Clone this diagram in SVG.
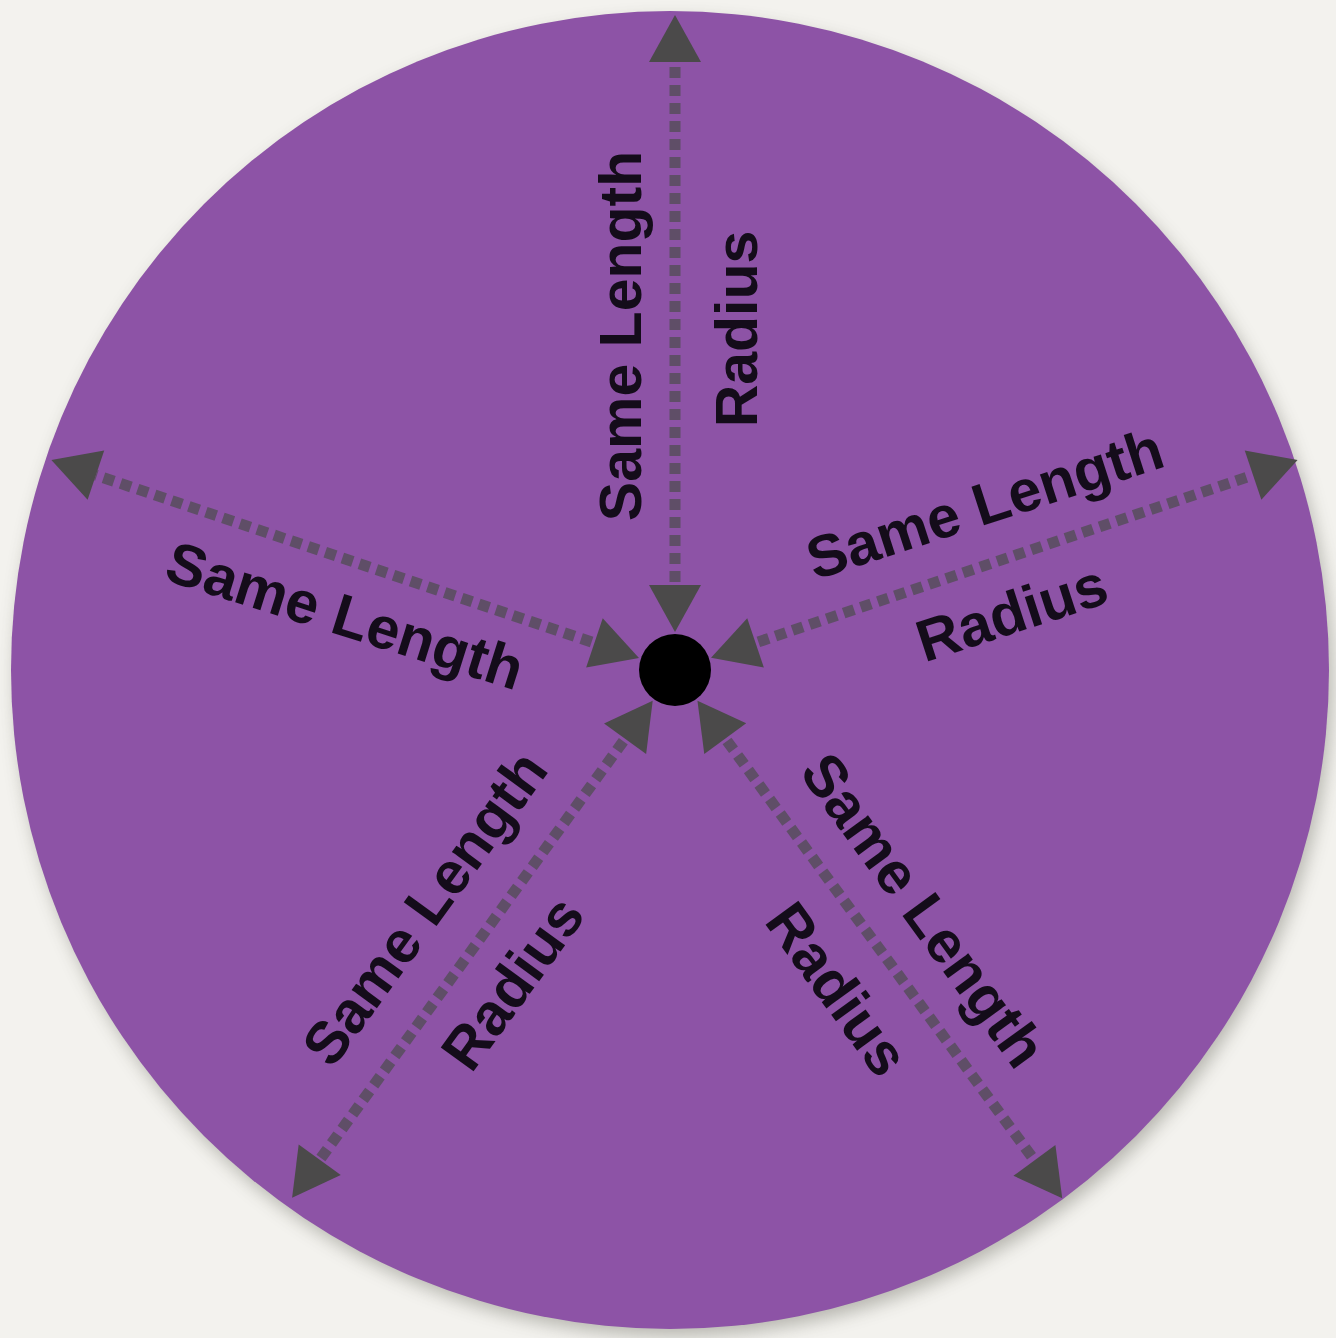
<svg xmlns="http://www.w3.org/2000/svg" xmlns:xlink="http://www.w3.org/1999/xlink" width="1336" height="1338" viewBox="0 0 1336 1338">
  <style>
    .lbl { font-family: "Liberation Sans", Arial, sans-serif; font-weight: bold; font-size: 59px; fill: #140c1a; text-anchor: middle; }
    .dots { stroke: #5f4e67; stroke-width: 11; stroke-dasharray: 11 7; fill: none; }
    .head { fill: #4b4a4a; }
  </style>
  <defs>
    <filter id="shadow" x="-10%" y="-10%" width="120%" height="120%">
      <feGaussianBlur stdDeviation="9"/>
    </filter>
  </defs>
  <rect width="1336" height="1338" fill="#f3f2ee"/>
  <g id="disc">
    <circle cx="674" cy="678" r="658" fill="#6a6a60" opacity="0.45" filter="url(#shadow)"/>
    <circle cx="670" cy="670" r="659" fill="#8d53a6"/>
  </g>
  <g id="connectors">
    <g transform="translate(675,670) rotate(-90)">
      <line class="dots" x1="88" y1="0" x2="608" y2="0"/>
      <polygon class="head" points="655,0 608,-26 608,26"/>
      <polygon class="head" points="38,0 85,-26 85,26"/>
    </g>
    <g transform="translate(675,670) rotate(-18.63)">
      <line class="dots" x1="88" y1="0" x2="610" y2="0"/>
      <polygon class="head" points="657,0 610,-26 610,26"/>
      <polygon class="head" points="38,0 85,-26 85,26"/>
    </g>
    <g transform="translate(675,670) rotate(-161.4)">
      <line class="dots" x1="88" y1="0" x2="611" y2="0"/>
      <polygon class="head" points="658,0 611,-26 611,26"/>
      <polygon class="head" points="38,0 85,-26 85,26"/>
    </g>
    <g transform="translate(675,670) rotate(125.96)">
      <line class="dots" x1="88" y1="0" x2="605" y2="0"/>
      <polygon class="head" points="652,0 605,-26 605,26"/>
      <polygon class="head" points="38,0 85,-26 85,26"/>
    </g>
    <g transform="translate(675,670) rotate(53.76)">
      <line class="dots" x1="88" y1="0" x2="608" y2="0"/>
      <polygon class="head" points="655,0 608,-26 608,26"/>
      <polygon class="head" points="38,0 85,-26 85,26"/>
    </g>
  </g>
  <g id="center">
    <circle cx="675" cy="670" r="36" fill="#000000"/>
  </g>
  <g id="label-up">
    <text class="lbl" transform="translate(641,336) rotate(-90)">Same Length</text>
    <text class="lbl" transform="translate(757,329) rotate(-90)">Radius</text>
  </g>
  <g id="label-right">
    <text class="lbl" transform="translate(991,523) rotate(-18)">Same Length</text>
    <text class="lbl" transform="translate(1018,632) rotate(-18)">Radius</text>
  </g>
  <g id="label-left">
    <text class="lbl" transform="translate(339,635) rotate(17.5)">Same Length</text>
  </g>
  <g id="label-bottom-left">
    <text class="lbl" transform="translate(441,920) rotate(-54)">Same Length</text>
    <text class="lbl" transform="translate(529,995) rotate(-54)">Radius</text>
  </g>
  <g id="label-bottom-right">
    <text class="lbl" transform="translate(907,922) rotate(54)">Same Length</text>
    <text class="lbl" transform="translate(821,1001) rotate(54)">Radius</text>
  </g>
</svg>
